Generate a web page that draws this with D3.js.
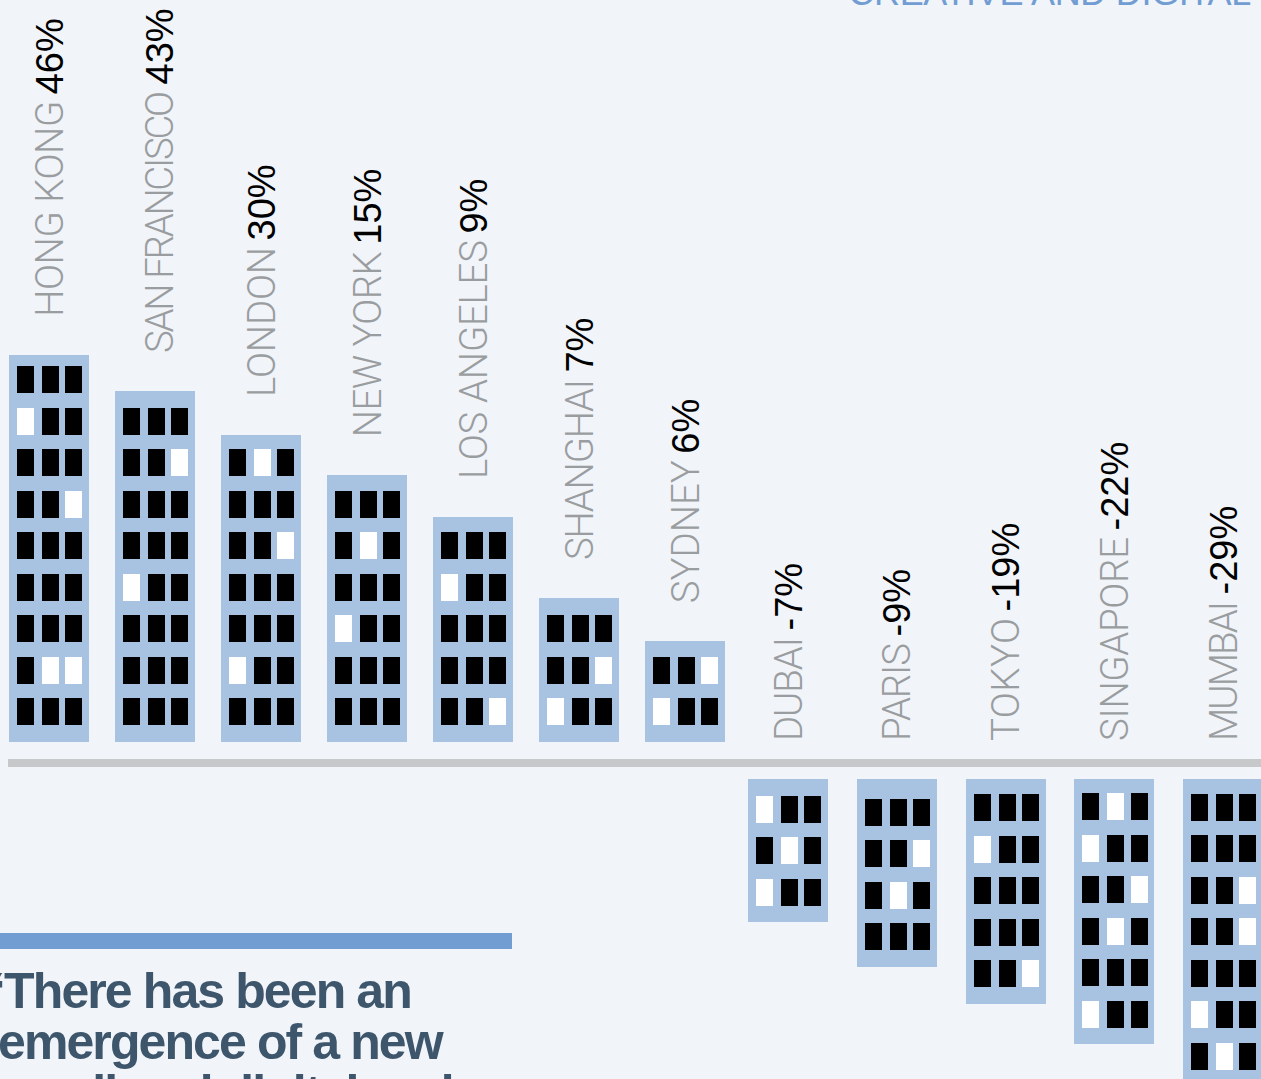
<!DOCTYPE html>
<html>
<head>
<meta charset="utf-8">
<script src="https://cdn.jsdelivr.net/npm/d3@7"></script>
<style>
    html, body { margin: 0; padding: 0; background: #f1f4f9; overflow: hidden; }
    text { font-family: "Liberation Sans", sans-serif; }
</style>
</head>
<body>
<div id="chart"></div>
<script>
const risingCities = ["HONG KONG", "SAN FRANCISCO", "LONDON", "NEW YORK", "LOS ANGELES", "SHANGHAI", "SYDNEY"];
const risingValues = [46, 43, 30, 15, 9, 7, 6];
const risingStoreys = [9.32, 8.45, 7.39, 6.42, 5.41, 3.46, 2.42];
// lit windows as [row from top, column]
const risingLit = [
    [[1, 0], [3, 2], [7, 1], [7, 2]],
    [[1, 2], [4, 0]],
    [[0, 1], [2, 2], [5, 0]],
    [[1, 1], [3, 0]],
    [[1, 0], [4, 2]],
    [[1, 2], [2, 0]],
    [[0, 2], [1, 0]]
];

const fallingCities = ["DUBAI", "PARIS", "TOKYO", "SINGAPORE", "MUMBAI"];
const fallingValues = [-7, -9, -19, -22, -29];
const fallingStoreys = [3.455, 4.52, 5.41, 6.395, 7.405];
const fallingLit = [
    [[0, 0], [1, 1], [2, 0]],
    [[1, 2], [2, 1]],
    [[1, 0], [4, 2]],
    [[0, 1], [1, 0], [2, 2], [3, 1], [5, 0]],
    [[2, 2], [3, 2], [5, 0], [6, 1]]
];

const quoteLines = ["\u201CThere has been an", "emergence of a new", "small and digital and"];
const sectionLabel = "CREATIVE AND DIGITAL";

const width = 1261, height = 1079;
const buildingWidth = 80;
const windowWidth = 17, windowHeight = 27;
const groundTop = 741.6, groundBottom = 779;
const labelGap = 38;

// city name lengths along the rotated baseline, the reference font is narrower
const risingNameLengths = [216, 262, 150, 186, 239, 181, 143];
const fallingNameLengths = [104, 98, 123, 204, 140];

const svg = d3.select("#chart")
    .append("svg")
    .attr("width", width)
    .attr("height", height)
    .style("display", "block");

const xRising = d3.scalePoint().domain(risingCities).range([9, 645]);
const xFalling = d3.scalePoint().domain(fallingCities).range([748, 1183]);
const storeyScale = d3.scaleLinear().domain([0, 10]).range([0, 415]);
const columnScale = d3.scaleOrdinal().domain([0, 1, 2]).range([8, 33, 56.4]);

function drawBuilding(g, x, top, bottom, storeys, lit) {
    g.append("rect")
        .attr("class", "building")
        .attr("x", Math.round(x))
        .attr("y", Math.round(top))
        .attr("width", buildingWidth)
        .attr("height", Math.round(bottom) - Math.round(top))
        .attr("fill", "#a8c3e2");

    const rows = Math.floor(storeys);
    const cells = d3.cross(d3.range(rows), d3.range(3));
    g.selectAll(".window")
        .data(cells)
        .enter().append("rect")
        .attr("class", "window")
        .attr("x", d => Math.round(x + columnScale(d[1])))
        .attr("y", d => Math.round(bottom - 43.4 - storeyScale(rows - 1 - d[0])))
        .attr("width", windowWidth)
        .attr("height", windowHeight)
        .attr("fill", d => lit.some(l => l[0] === d[0] && l[1] === d[1]) ? "#fff" : "#000");
}

function drawLabel(g, x, y, city, value, nameLength) {
    g.append("text")
        .attr("class", "cityName")
        .attr("transform", `translate(${x},${y}) rotate(-90)`)
        .style("font-family", "Roboto")
        .style("font-weight", 300)
        .attr("font-size", "38.4px")
        .attr("textLength", nameLength)
        .attr("lengthAdjust", "spacing")
        .attr("fill", "#9a9da0")
        .text(city);

    g.append("text")
        .attr("class", "cityValue")
        .attr("transform", `translate(${x},${y - nameLength - 6.5}) rotate(-90)`)
        .attr("font-size", "38px")
        .attr("fill", "#000")
        .text(value + "%");
}

risingCities.forEach((city, i) => {
    const g = svg.append("g").attr("class", "rising");
    const h = storeyScale(risingStoreys[i]);
    const x = xRising(city);
    const nudge = city === "SAN FRANCISCO" ? 4 : 0;
    drawBuilding(g, x, groundTop - h, groundTop, risingStoreys[i], risingLit[i]);
    drawLabel(g, x + 53.7 + nudge, groundTop - h - labelGap, city, risingValues[i], risingNameLengths[i]);
});

fallingCities.forEach((city, i) => {
    const g = svg.append("g").attr("class", "falling");
    const h = storeyScale(fallingStoreys[i]);
    const x = xFalling(city);
    drawBuilding(g, x, groundBottom, groundBottom + h, fallingStoreys[i], fallingLit[i]);
    drawLabel(g, x + 53.7, 741, city, fallingValues[i], fallingNameLengths[i]);
});

// ground line
svg.append("rect")
    .attr("x", 8)
    .attr("y", 759)
    .attr("width", width - 8)
    .attr("height", 8)
    .attr("fill", "#c6c8ca");

// bar above the quote
svg.append("rect")
    .attr("x", 0)
    .attr("y", 933)
    .attr("width", 512)
    .attr("height", 16)
    .attr("fill", "#729dd2");

svg.selectAll(".quote")
    .data(quoteLines)
    .enter().append("text")
    .attr("class", "quote")
    .attr("x", (d, i) => i === 0 ? -19 : -2)
    .attr("y", (d, i) => 1008 + i * 51)
    .attr("font-size", "50px")
    .attr("font-weight", "bold")
    .attr("letter-spacing", "-1.9px")
    .attr("fill", "#3d566c")
    .text(d => d);

svg.append("text")
    .attr("class", "sectionLabel")
    .attr("x", 1251)
    .attr("y", 5)
    .attr("text-anchor", "end")
    .attr("font-size", "36px")
    .attr("letter-spacing", "-0.3px")
    .attr("fill", "#729dd2")
    .text(sectionLabel);
</script>
</body>
</html>
